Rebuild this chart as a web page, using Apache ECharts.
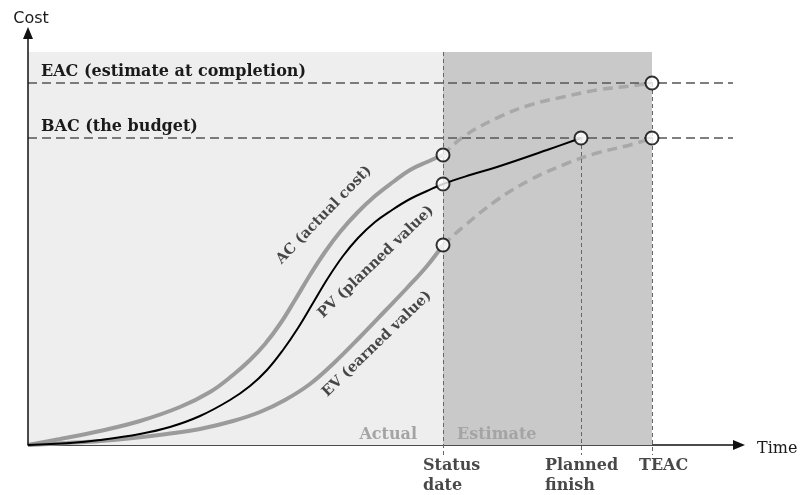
<!DOCTYPE html>
<html>
<head>
<meta charset="utf-8">
<script src="https://cdn.jsdelivr.net/npm/echarts@6/dist/echarts.min.js"></script>
<style>
  html, body { margin: 0; padding: 0; background: #fff; }
  #chart { width: 801px; height: 495px; }
</style>
</head>
<body>
<div id="chart"></div>
<script>
// Earned value management S-curves (time and cost in project units)
const acActual = [[0,0],[32,6],[72,14],[112,24],[152,38],[182,53],[205,70],[222,85],[237,101],[252,121],[267,145],[282,170],[297,193],[312,213],[329,232],[347,249],[365,263],[382,275],[399,283],[415,290]];
const acForecast = [[415,290],[435,308],[469,327],[502,340],[535,348],[569,355],[602,359],[624,362]];
const pvPlanned = [[0,0],[42,2],[72,5],[112,11],[142,18],[172,29],[202,45],[222,59],[239,75],[255,95],[270,117],[285,142],[300,167],[315,189],[330,207],[347,223],[364,235],[382,246],[399,254],[415,261],[442,270],[469,278],[519,295],[553,307]];
const evActual = [[0,0],[39,2],[72,4],[105,7],[139,11],[172,16],[205,24],[232,33],[257,45],[282,61],[307,83],[332,108],[357,134],[379,157],[399,179],[415,200]];
const evForecast = [[415,200],[435,218],[469,245],[502,265],[535,280],[569,292],[602,300],[624,307]];

// key dates and cost levels
const statusDate = 415;
const plannedFinish = 553;
const teac = 624;
const bac = 307;
const eac = 362;
const bandTop = 393;
const timeMax = 711;
const costMax = 412;
const costMin = -50;
const guideEnd = 705;
const tickDrop = -10;

const levelNames = ['EAC (estimate at completion)', 'BAC (the budget)'];
const bandNames = ['Actual', 'Estimate'];
const dateNames = ['Status\ndate', 'Planned\nfinish', 'TEAC'];
const dateValues = [statusDate, plannedFinish, teac];
const dateShift = [-20, -36, -13];

// curve captions: text and where along the curves they sit
const captions = [
  { text: 'AC (actual cost)', at: [296, 230], angle: 46 },
  { text: 'PV (planned value)', at: [348, 183], angle: 44 },
  { text: 'EV (earned value)', at: [349, 101], angle: 44 }
];

const pvAtStatus = pvPlanned.find(p => p[0] === statusDate);
const milestones = [
  acActual[acActual.length - 1],
  pvAtStatus,
  evActual[evActual.length - 1],
  pvPlanned[pvPlanned.length - 1],
  acForecast[acForecast.length - 1],
  evForecast[evForecast.length - 1]
];

const serif = 'DejaVu Serif';
const ink = '#1a1a1a';
const grayCurve = '#9b9b9b';
const grayDash = '#a8a8a8';
const curveSmooth = 0.4;

const chart = echarts.init(document.getElementById('chart'));

const guideStyle = { color: '#555', width: 1.5, type: [9, 5] };
const dropStyle = { color: '#666', width: 1, type: [4, 3] };

chart.setOption({
  animation: false,
  grid: { left: 28, right: 801 - 28 - timeMax, top: 33, bottom: 0 },
  xAxis: {
    type: 'value', min: 0, max: timeMax,
    name: 'Time', nameLocation: 'end', nameGap: 18,
    nameTextStyle: { fontFamily: serif, fontSize: 16, color: ink, verticalAlign: 'top', lineHeight: 8 },
    axisLine: { onZero: true, lineStyle: { color: '#111', width: 1.5 }, symbol: ['none', 'triangle'], symbolSize: [10, 12] },
    axisTick: { show: false }, axisLabel: { show: false }, splitLine: { show: false }
  },
  yAxis: {
    type: 'value', min: costMin, max: costMax,
    name: 'Cost', nameLocation: 'end', nameGap: 6,
    nameTextStyle: { fontFamily: 'DejaVu Sans', fontSize: 16, color: ink, align: 'center', padding: [0, 0, 0, 6] },
    axisLine: { show: false }, axisTick: { show: false }, axisLabel: { show: false }, splitLine: { show: false }
  },
  series: [
    {
      name: 'frame', type: 'line', data: [], z: 1, silent: true, clip: false,
      markArea: {
        silent: true,
        data: [
          [
            { name: bandNames[0], coord: [0, bandTop], itemStyle: { color: '#eeeeee' },
              label: { position: 'insideBottomRight', distance: 2, offset: [-24, 0] } },
            { coord: [statusDate, 0] }
          ],
          [
            { name: bandNames[1], coord: [statusDate, bandTop], itemStyle: { color: '#c9c9c9' },
              label: { position: 'insideBottomLeft', distance: 2, offset: [12, 0] } },
            { coord: [teac, 0] }
          ]
        ],
        label: { show: true, fontFamily: serif, fontWeight: 'bold', fontSize: 16, color: '#a4a4a4' }
      },
      markLine: {
        silent: true, symbol: ['none', 'none'],
        label: { show: false },
        data: [
          [
            { name: levelNames[0], coord: [0, eac], lineStyle: guideStyle,
              label: { show: true, position: 'insideStartTop', distance: [13, 3], formatter: '{b}',
                       fontFamily: serif, fontWeight: 'bold', fontSize: 16, color: ink } },
            { coord: [guideEnd, eac] }
          ],
          [
            { name: levelNames[1], coord: [0, bac], lineStyle: guideStyle,
              label: { show: true, position: 'insideStartTop', distance: [13, 3], formatter: '{b}',
                       fontFamily: serif, fontWeight: 'bold', fontSize: 16, color: ink } },
            { coord: [guideEnd, bac] }
          ],
          [ { coord: [statusDate, bandTop], lineStyle: dropStyle }, { coord: [statusDate, tickDrop] } ],
          [ { coord: [plannedFinish, bac], lineStyle: dropStyle }, { coord: [plannedFinish, tickDrop] } ],
          [ { coord: [teac, eac], lineStyle: dropStyle }, { coord: [teac, tickDrop] } ],
          [
            { coord: [0, 0], lineStyle: { color: '#111', width: 1.5, type: 'solid' } },
            { coord: [0, costMax], symbol: 'triangle', symbolSize: [10, 12] }
          ]
        ]
      }
    },
    {
      name: 'AC', type: 'line', data: acActual, z: 3, showSymbol: false, smooth: curveSmooth,
      lineStyle: { color: grayCurve, width: 4 }
    },
    {
      name: 'AC forecast', type: 'line', data: acForecast, z: 3, showSymbol: false, smooth: curveSmooth,
      lineStyle: { color: grayDash, width: 3.5, type: [10, 6] }
    },
    {
      name: 'PV', type: 'line', data: pvPlanned, z: 4, showSymbol: false, smooth: curveSmooth,
      lineStyle: { color: '#000', width: 2 }
    },
    {
      name: 'EV', type: 'line', data: evActual, z: 3, showSymbol: false, smooth: curveSmooth,
      lineStyle: { color: grayCurve, width: 4 }
    },
    {
      name: 'EV forecast', type: 'line', data: evForecast, z: 3, showSymbol: false, smooth: curveSmooth,
      lineStyle: { color: grayDash, width: 3.5, type: [10, 6] }
    },
    {
      name: 'milestones', type: 'scatter', data: milestones, z: 10,
      symbol: 'circle', symbolSize: 13,
      itemStyle: { color: '#fff', borderColor: '#000', borderWidth: 2 }
    },
    {
      name: 'captions', type: 'scatter', z: 6, symbolSize: 0, clip: false, silent: true,
      data: captions.map(c => ({
        value: c.at, name: c.text,
        label: { show: true, position: 'inside', rotate: c.angle, formatter: '{b}',
                 fontFamily: serif, fontWeight: 'bold', fontSize: 14.5, color: ink,
                 align: 'center', verticalAlign: 'middle' }
      }))
    },
    {
      name: 'dates', type: 'scatter', z: 6, symbolSize: 0, clip: false, silent: true,
      data: dateValues.map((t, i) => ({
        value: [t, 0], name: dateNames[i],
        label: { show: true, position: [0, 0], offset: [dateShift[i], 11], formatter: '{b}',
                 fontFamily: serif, fontWeight: 'bold', fontSize: 16, lineHeight: 20, color: ink,
                 align: 'left', verticalAlign: 'top' }
      }))
    }
  ]
});
</script>
</body>
</html>
